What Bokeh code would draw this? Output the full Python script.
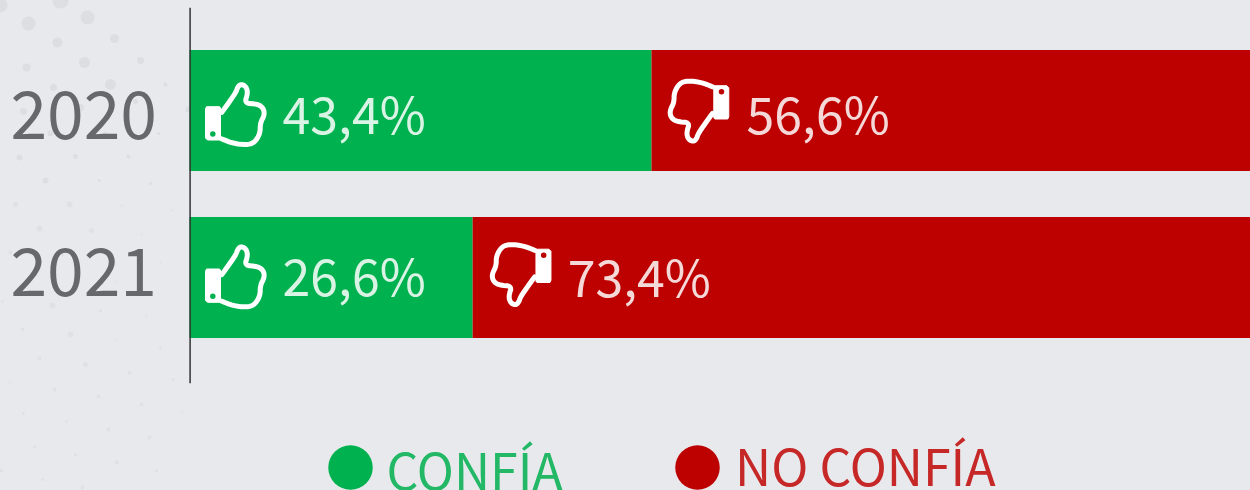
from bokeh.plotting import figure
from bokeh.models import Range1d
from bokeh.core.properties import value
from bokeh.embed import file_html
from bokeh.resources import INLINE

# ---- data
years = ["2020", "2021"]
confia = [43.4, 26.6]
no_confia = [56.6, 73.4]
confia_labels = ["43,4%", "26,6%"]
no_confia_labels = ["56,6%", "73,4%"]
legend_labels = ["CONFÍA", "NO CONFÍA"]

# ---- style
GREEN, RED = "#00b14f", "#bd0000"
BG = "#e8e9ed"
FONT = "Noto Sans CJK SC"
W, H = 1251, 491
X0, PX_PER_PCT = 190.0, 10.645
Y0, ROW = 111.0, 167.0
YEAR_PX, VALUE_PX, LEGEND_PX = 66, 50, 50
BASE_FIX = 0.37   # the svg backend puts the alphabetic baseline this many em lower

def dx(px):
    return px / PX_PER_PCT
def ax(px):
    return (px - X0) / PX_PER_PCT
def ay(py):
    return (py - Y0) / ROW

p = figure(width=W, height=H, output_backend="svg", toolbar_location=None,
           x_range=Range1d(ax(0), ax(W)), y_range=Range1d(ay(H), ay(0)),
           min_border=0, background_fill_color=BG, border_fill_color=BG,
           outline_line_color=None)
p.styles = {"position": "absolute", "left": "-1px", "top": "-1px"}
p.axis.visible = False
p.grid.visible = False

# background dots (decoration)
dots = [(60,0,8),(0,5,7),(28,23,7),(87,17,7),(57,42,5),(114,38,4.5),(84,62,5.5),(26,67,4),(140,60,3.5),
        (110,84,5.5),(53,87,3.5),(23,111,3.5),(80,107,3.5),(135,101,2.5),(165,84,2),(188,109,3),(50,133,3),
        (105,133,2),(158,133,1.5),(19,157,3),(75,156,2.5),(128,156,2),(45,180,3),(99,180,1.5),(150,183,1.5),
        (15,204,2.5),(69,204,3),(121,205,1),(171,210,1),(39,228,3),(91,230,2.5),(141,234,1),(10,252,2),(62,254,1.5),
        (160,262,1),(115,281,1),(2,301,1.5),(52,305,3),(100,310,1.5),(146,316,1),(22,329,2),(70,334,3),(116,340,1),
        (160,347,1.5),(39,358,2),(85,364,2.5),(129,372,2),(173,379,1.5),(9,382,1),(54,389,2),(98,396,2),(141,404,2),
        (182,411,1),(23,413,1.5),(66,421,1.5),(108,429,2),(149,437,2),(34,446,1.5),(75,454,1.5),(116,462,2),
        (156,470,1.5),(1,470,2),(42,479,1.5),(82,487,2)]
p.scatter([ax(d[0] + 1) for d in dots], [ay(d[1] + 1) for d in dots], size=[2*d[2] for d in dots],
          marker="circle", fill_color="#dcdde1", fill_alpha=[0.95 if d[1] < 200 else 0.7 for d in dots],
          line_color=None)

rows = list(range(len(years)))
bar_h = 121 / ROW
p.hbar(y=rows, left=0, right=confia, height=bar_h, fill_color=GREEN, line_color=None)
p.hbar(y=rows, left=confia, right=[a + b for a, b in zip(confia, no_confia)], height=bar_h,
       fill_color=RED, line_color=None)

# axis line and year labels
p.segment(x0=[ax(190.6)], x1=[ax(190.6)], y0=[ay(8.3)], y1=[ay(383.7)], line_color="#333333", line_width=1.5)
year_base = [140, 297]
p.text(x=[ax(157.5)] * 2, y=[ay(v - BASE_FIX * YEAR_PX) for v in year_base], text=years, text_font=value(FONT),
       text_font_size=f"{YEAR_PX}px", text_color="#67686c", text_align="right", text_baseline="alphabetic")

# value labels
green_base, red_base = [20, 15], [20, 16]
vfix = BASE_FIX * VALUE_PX
p.text(x=[dx(93)] * 2, y=[r + (v - vfix) / ROW for r, v in zip(rows, green_base)], text=confia_labels,
       text_font=value(FONT), text_font_size=f"{VALUE_PX}px", text_color="#ffffff", text_alpha=0.85,
       text_baseline="alphabetic")
p.text(x=[c + dx(95) for c in confia], y=[r + (v - vfix) / ROW for r, v in zip(rows, red_base)],
       text=no_confia_labels, text_font=value(FONT), text_font_size=f"{VALUE_PX}px", text_color="#ffffff",
       text_alpha=0.85, text_baseline="alphabetic")

# thumb icons, drawn relative to each bar segment's start
hand = [(17.3,34.3),(26.7,21.3),(31.7,13.7),(33.3,8.7),(36.7,6),(41.7,8.7),(43.3,15.3),(40,25.3),(53.3,26),
        (59,30.3),(60,37),(55.7,45.3),(55.7,55.3),(50,64.7),(41.7,67),(28.3,65.3),(16.7,60.7)]
cuff = [(2,28.7),(15,28.7),(16,30),(16,60),(14.5,62),(3,62),(1,60),(1,31)]
hole = (8.3, 56)

def chaikin(pts, n=2):
    for _ in range(n):
        out = [pts[0]]
        for a, b in zip(pts[:-1], pts[1:]):
            out.append((0.75*a[0] + 0.25*b[0], 0.75*a[1] + 0.25*b[1]))
            out.append((0.25*a[0] + 0.75*b[0], 0.25*a[1] + 0.75*b[1]))
        out.append(pts[-1])
        pts = out
    return pts
hand_s = chaikin(hand)

def icon(start, row, ox, oy, sgn, bg):
    tx = lambda a: start + dx(ox + sgn * a)
    ty = lambda b: row + (oy + sgn * b) / ROW
    p.line([tx(a) for a, _ in hand_s], [ty(b) for _, b in hand_s], line_color="#ffffff", line_width=5,
           line_join="round", line_cap="round")
    p.patch([tx(a) for a, _ in cuff], [ty(b) for _, b in cuff], fill_color="#ffffff", line_color="#ffffff",
            line_width=1, line_join="round")
    p.scatter([tx(hole[0])], [ty(hole[1])], size=5.5, marker="circle", fill_color=bg, line_color=None)

up_oy, down_oy, down_ox = [-32.5, -37.2], [37.2, 33.7], [78.3, 79.3]
for r, c in zip(rows, confia):
    icon(0, r, 15, up_oy[r], 1, GREEN)
    icon(c, r, down_ox[r], down_oy[r], -1, RED)

# legend
lfix = BASE_FIX * LEGEND_PX
p.scatter([ax(351), ax(698)], [ay(468)] * 2, size=44.5, marker="circle", fill_color=[GREEN, RED], line_color=None)
p.text(x=[ax(387)], y=[ay(487 - lfix)], text=legend_labels[:1], text_font=value(FONT),
       text_font_size=f"{LEGEND_PX}px", text_color="#22b866", text_baseline="alphabetic")
p.text(x=[ax(735.5)], y=[ay(483 - lfix)], text=legend_labels[1:], text_font=value(FONT),
       text_font_size=f"{LEGEND_PX}px", text_color="#c62828", text_baseline="alphabetic")

open("out.html", "w").write(file_html(p, INLINE))
